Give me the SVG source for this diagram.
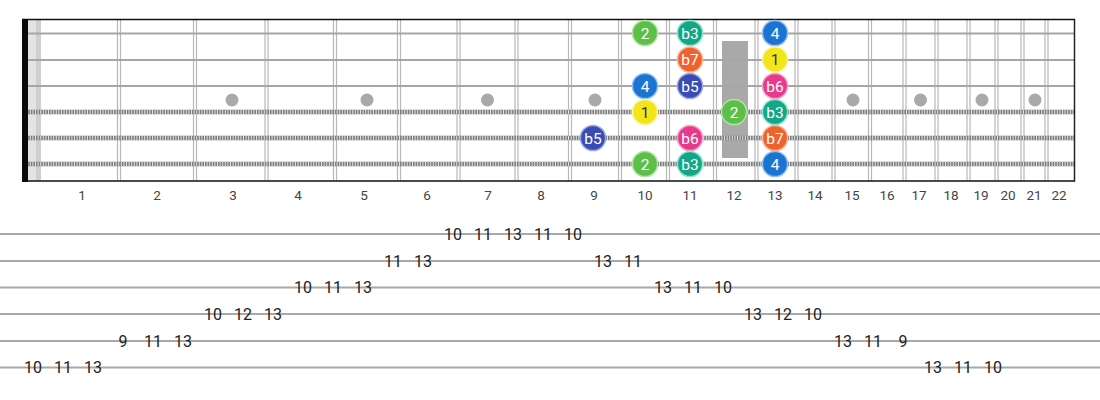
<svg xmlns="http://www.w3.org/2000/svg" width="1100" height="400" viewBox="0 0 1100 400">
<style>
.fret{stroke:#b8b8b8;stroke-width:1.2;fill:none}
.plain{stroke:#a6a6a6;stroke-width:2.2}
.wb{stroke:#7d7d7d;stroke-width:4.5}
.wt{stroke:#e2e2e2;stroke-width:4.5;stroke-dasharray:1 1.6}
.inlay{fill:#a9a9a9}
.fn{font-family:Roboto,"Liberation Sans",sans-serif;font-size:13.5px;fill:#444;text-anchor:middle}
.nt{font-family:Roboto,"Liberation Sans",sans-serif;font-size:15.5px;fill:#fff;text-anchor:middle}
.tl{stroke:#a8a8a8;stroke-width:2}
.tn{font-family:Roboto,"Liberation Sans",sans-serif;font-size:16px;fill:#222;text-anchor:middle}
.c2{fill:#5dbf4a;stroke:#b0e6a2;stroke-width:1.5}
.cb3{fill:#14a687;stroke:#8ee8cc;stroke-width:1.5}
.c4{fill:#1b74d2;stroke:#92c0f2;stroke-width:1.5}
.cb7{fill:#f0622c;stroke:#f9b89c;stroke-width:1.5}
.c1{fill:#f4e51a;stroke:#faf4a6;stroke-width:1.5}
.cb5{fill:#3a4cb3;stroke:#a0aae2;stroke-width:1.5}
.cb6{fill:#e83a8c;stroke:#f6a6cb;stroke-width:1.5}
.dk{fill:#333}
</style>
<rect width="1100" height="400" fill="#fff"/>
<g id="fretboard">
<rect x="28" y="20" width="13" height="161" fill="#e4e4e4"/>
<rect x="36" y="20" width="5" height="161" fill="#cfcfcf"/>
<g id="frets">
<path class="fret" d="M117.5 20V181M120.5 20V181M193.5 20V181M196.5 20V181M265 20V181M268 20V181M333.5 20V181M336.5 20V181M397.5 20V181M400.5 20V181M457 20V181M460 20V181M515 20V181M518 20V181M568.5 20V181M571.5 20V181M618.5 20V181M621.5 20V181M666.5 20V181M669.5 20V181M713.5 20V181M716.5 20V181M755 20V181M758 20V181M795 20V181M798 20V181M832 20V181M835 20V181M868.5 20V181M871.5 20V181M903 20V181M906 20V181M935 20V181M938 20V181M967 20V181M970 20V181M995 20V181M998 20V181M1021 20V181M1024 20V181M1045 20V181M1048 20V181"/>
</g>
<g id="inlays">
<circle class="inlay" cx="232" cy="100" r="6.5"/>
<circle class="inlay" cx="367" cy="100" r="6.5"/>
<circle class="inlay" cx="487.5" cy="100" r="6.5"/>
<circle class="inlay" cx="595" cy="100" r="6.5"/>
<circle class="inlay" cx="853" cy="100" r="6.5"/>
<circle class="inlay" cx="920.5" cy="100" r="6.5"/>
<circle class="inlay" cx="982" cy="100" r="6.5"/>
<circle class="inlay" cx="1035" cy="100" r="6.5"/>
<rect x="722" y="41" width="26" height="117" fill="#a9a9a9"/>
</g>
<g id="strings">
<line class="plain" x1="22" y1="33.5" x2="1075" y2="33.5"/>
<line class="plain" x1="22" y1="60" x2="1075" y2="60"/>
<line class="plain" x1="22" y1="86" x2="1075" y2="86"/>
<line class="wb" x1="22" y1="112" x2="1075" y2="112"/>
<line class="wt" x1="22" y1="112" x2="1075" y2="112"/>
<line class="wb" x1="22" y1="138" x2="1075" y2="138"/>
<line class="wt" x1="22" y1="138" x2="1075" y2="138"/>
<line class="wb" x1="22" y1="164" x2="1075" y2="164"/>
<line class="wt" x1="22" y1="164" x2="1075" y2="164"/>
</g>
<path d="M22 19.5H1075M22 181H1075" stroke="#111" stroke-width="1.5" fill="none"/>
<line x1="1074.5" y1="19" x2="1074.5" y2="181.5" stroke="#222" stroke-width="1.5"/>
<rect x="22" y="19" width="6" height="163" fill="#0a0a0a"/>
</g>
<g id="fret-numbers">
<text class="fn" x="82" y="200">1</text>
<text class="fn" x="157" y="200">2</text>
<text class="fn" x="233" y="200">3</text>
<text class="fn" x="298" y="200">4</text>
<text class="fn" x="364" y="200">5</text>
<text class="fn" x="427" y="200">6</text>
<text class="fn" x="488" y="200">7</text>
<text class="fn" x="541" y="200">8</text>
<text class="fn" x="594" y="200">9</text>
<text class="fn" x="645" y="200">10</text>
<text class="fn" x="690" y="200">11</text>
<text class="fn" x="734" y="200">12</text>
<text class="fn" x="775" y="200">13</text>
<text class="fn" x="815" y="200">14</text>
<text class="fn" x="852" y="200">15</text>
<text class="fn" x="887" y="200">16</text>
<text class="fn" x="919" y="200">17</text>
<text class="fn" x="951" y="200">18</text>
<text class="fn" x="981" y="200">19</text>
<text class="fn" x="1008" y="200">20</text>
<text class="fn" x="1034" y="200">21</text>
<text class="fn" x="1059" y="200">22</text>
</g>
<g id="notes">
<g id="n-s1-f10"><circle class="c2" cx="645" cy="33" r="12.6"/><text class="nt" x="645" y="38.5">2</text></g>
<g id="n-s1-f11"><circle class="cb3" cx="690" cy="33" r="12.6"/><text class="nt" x="690" y="38.5">b3</text></g>
<g id="n-s1-f13"><circle class="c4" cx="775" cy="33" r="12.6"/><text class="nt" x="775" y="38.5">4</text></g>
<g id="n-s2-f11"><circle class="cb7" cx="690" cy="59.5" r="12.6"/><text class="nt" x="690" y="65">b7</text></g>
<g id="n-s2-f13"><circle class="c1" cx="775" cy="59.5" r="12.6"/><text class="nt dk" x="775" y="65">1</text></g>
<g id="n-s3-f10"><circle class="c4" cx="645" cy="86" r="12.6"/><text class="nt" x="645" y="91.5">4</text></g>
<g id="n-s3-f11"><circle class="cb5" cx="690" cy="86" r="12.6"/><text class="nt" x="690" y="91.5">b5</text></g>
<g id="n-s3-f13"><circle class="cb6" cx="775" cy="86" r="12.6"/><text class="nt" x="775" y="91.5">b6</text></g>
<g id="n-s4-f10"><circle class="c1" cx="645" cy="112" r="12.6"/><text class="nt dk" x="645" y="117.5">1</text></g>
<g id="n-s4-f12"><circle class="c2" cx="734" cy="112" r="12.6"/><text class="nt" x="734" y="117.5">2</text></g>
<g id="n-s4-f13"><circle class="cb3" cx="775" cy="112" r="12.6"/><text class="nt" x="775" y="117.5">b3</text></g>
<g id="n-s5-f9"><circle class="cb5" cx="593" cy="138" r="12.6"/><text class="nt" x="593" y="143.5">b5</text></g>
<g id="n-s5-f11"><circle class="cb6" cx="690" cy="138" r="12.6"/><text class="nt" x="690" y="143.5">b6</text></g>
<g id="n-s5-f13"><circle class="cb7" cx="775" cy="138" r="12.6"/><text class="nt" x="775" y="143.5">b7</text></g>
<g id="n-s6-f10"><circle class="c2" cx="645" cy="164" r="12.6"/><text class="nt" x="645" y="169.5">2</text></g>
<g id="n-s6-f11"><circle class="cb3" cx="690" cy="164" r="12.6"/><text class="nt" x="690" y="169.5">b3</text></g>
<g id="n-s6-f13"><circle class="c4" cx="775" cy="164" r="12.6"/><text class="nt" x="775" y="169.5">4</text></g>
</g>
<g id="tab">
<g id="tab-lines">
<line class="tl" x1="0" y1="234" x2="1100" y2="234"/>
<line class="tl" x1="0" y1="261" x2="1100" y2="261"/>
<line class="tl" x1="0" y1="287.5" x2="1100" y2="287.5"/>
<line class="tl" x1="0" y1="314" x2="1100" y2="314"/>
<line class="tl" x1="0" y1="341" x2="1100" y2="341"/>
<line class="tl" x1="0" y1="367.5" x2="1100" y2="367.5"/>
</g>
<g id="tab-numbers">
<text class="tn" x="453" y="239.7">10</text><text class="tn" x="483" y="239.7">11</text><text class="tn" x="513" y="239.7">13</text><text class="tn" x="543" y="239.7">11</text><text class="tn" x="573" y="239.7">10</text>
<text class="tn" x="393" y="266.7">11</text><text class="tn" x="423" y="266.7">13</text><text class="tn" x="603" y="266.7">13</text><text class="tn" x="633" y="266.7">11</text>
<text class="tn" x="303" y="293.2">10</text><text class="tn" x="333" y="293.2">11</text><text class="tn" x="363" y="293.2">13</text><text class="tn" x="663" y="293.2">13</text><text class="tn" x="693" y="293.2">11</text><text class="tn" x="723" y="293.2">10</text>
<text class="tn" x="213" y="319.7">10</text><text class="tn" x="243" y="319.7">12</text><text class="tn" x="273" y="319.7">13</text><text class="tn" x="753" y="319.7">13</text><text class="tn" x="783" y="319.7">12</text><text class="tn" x="813" y="319.7">10</text>
<text class="tn" x="123" y="346.7">9</text><text class="tn" x="153" y="346.7">11</text><text class="tn" x="183" y="346.7">13</text><text class="tn" x="843" y="346.7">13</text><text class="tn" x="873" y="346.7">11</text><text class="tn" x="903" y="346.7">9</text>
<text class="tn" x="33" y="373.2">10</text><text class="tn" x="63" y="373.2">11</text><text class="tn" x="93" y="373.2">13</text><text class="tn" x="933" y="373.2">13</text><text class="tn" x="963" y="373.2">11</text><text class="tn" x="993" y="373.2">10</text>
</g>
</g>
</svg>
